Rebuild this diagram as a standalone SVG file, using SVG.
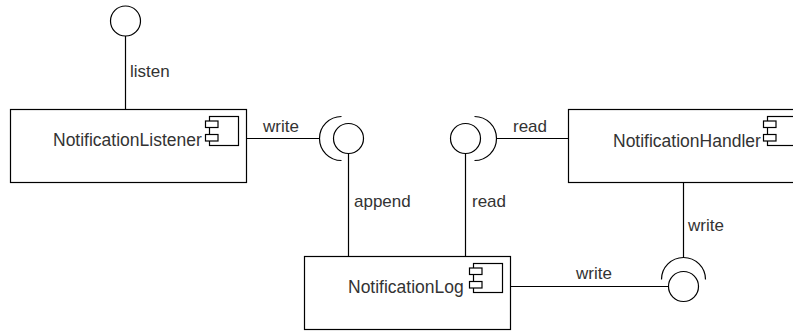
<svg xmlns="http://www.w3.org/2000/svg" width="793" height="333" viewBox="0 0 793 333">
<style>
.box{fill:#fff;stroke:#000;stroke-width:1.2}
.ico{fill:#fff;stroke:#000;stroke-width:1.2}
.ln{fill:none;stroke:#000;stroke-width:1.2}
text{font-family:"Liberation Sans",Arial,Helvetica,sans-serif;font-size:17px;fill:#333}
text.name{font-size:17.5px}
</style>
<rect width="793" height="333" fill="#fff"/>
<g id="connectors">
<line class="ln" x1="125.5" y1="36" x2="125.5" y2="109.5"/>
<text x="130" y="77">listen</text>
<line class="ln" x1="246" y1="138.5" x2="319" y2="138.5"/>
<text x="263" y="132">write</text>
<line class="ln" x1="348.5" y1="153" x2="348.5" y2="256.5"/>
<text x="354" y="207">append</text>
<line class="ln" x1="465.5" y1="153" x2="465.5" y2="256.5"/>
<text x="472" y="207">read</text>
<line class="ln" x1="497" y1="138.5" x2="568.5" y2="138.5"/>
<text x="513" y="132">read</text>
<line class="ln" x1="683.5" y1="182.5" x2="683.5" y2="257"/>
<text x="688" y="231">write</text>
<line class="ln" x1="510.5" y1="286.5" x2="668.5" y2="286.5"/>
<text x="576" y="279">write</text>
</g>
<g id="listen-interface">
<circle class="ln" cx="125.5" cy="21" r="15"/>
</g>
<g id="write-socket">
<path class="ln" d="M341.5,116.5 A22,22 0 0 0 341.5,160.5"/>
<circle class="ln" cx="348.5" cy="138.5" r="15"/>
</g>
<g id="read-socket">
<path class="ln" d="M474.5,116.5 A22,22 0 0 1 474.5,160.5"/>
<circle class="ln" cx="465.5" cy="138.5" r="15"/>
</g>
<g id="write-socket-log">
<path class="ln" d="M661.5,279.5 A22,22 0 0 1 705.5,279.5"/>
<circle class="ln" cx="683.5" cy="286.5" r="15"/>
</g>
<g id="NotificationListener">
<rect class="box" x="10.5" y="109.5" width="236" height="73"/>
<rect class="ico" x="209.5" y="116.5" width="29" height="29"/>
<rect class="ico" x="205.5" y="121" width="12.5" height="6.5"/>
<rect class="ico" x="205.5" y="134.5" width="12.5" height="6.5"/>
<text class="name" x="53" y="146">NotificationListener</text>
</g>
<g id="NotificationHandler">
<rect class="box" x="568.5" y="109.5" width="236" height="73"/>
<rect class="ico" x="767.5" y="116.5" width="29" height="29"/>
<rect class="ico" x="763.5" y="121" width="12.5" height="6.5"/>
<rect class="ico" x="763.5" y="134.5" width="12.5" height="6.5"/>
<text class="name" x="613" y="146.5">NotificationHandler</text>
</g>
<g id="NotificationLog">
<rect class="box" x="304.5" y="256.5" width="206" height="73"/>
<rect class="ico" x="473.5" y="263.5" width="29" height="29"/>
<rect class="ico" x="469.5" y="268" width="12.5" height="6.5"/>
<rect class="ico" x="469.5" y="281.5" width="12.5" height="6.5"/>
<text class="name" x="348" y="293">NotificationLog</text>
</g>
</svg>
